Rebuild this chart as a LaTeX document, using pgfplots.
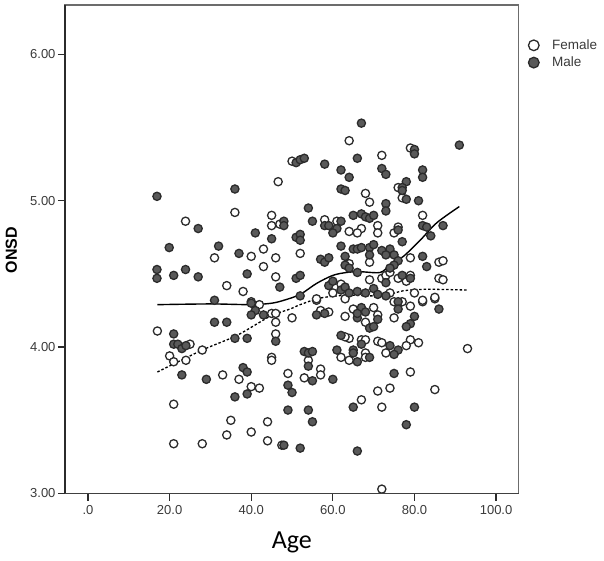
\documentclass[border=0pt]{standalone}
\usepackage{pgfplots}
\pgfplotsset{compat=1.18}
\usepackage{fontspec}
\setmainfont{Liberation Sans}
\newfontfamily\agefont{Carlito}
\definecolor{malefill}{HTML}{595959}
\definecolor{edge}{HTML}{2B2B2B}
\definecolor{ticktext}{HTML}{3A3A3A}
\begin{document}
\begin{tikzpicture}[x=1pt,y=1pt]
\path[use as bounding box] (-65,-66.5) rectangle (539,488.5+5);
\begin{axis}[
  at={(0,0)}, anchor=south west,
  scale only axis, width=453.5pt, height=488.5pt,
  xmin=-5.64, xmax=105.5, ymin=3, ymax=6.337,
  xtick={0,20,40,60,80,100},
  xticklabels={.0,20.0,40.0,60.0,80.0,100.0},
  ytick={3,4,5,6},
  yticklabels={3.00,4.00,5.00,6.00},
  tick align=outside, tick pos=left,
  tick style={draw=edge, line width=1.3pt},
  major tick length=7pt,
  ticklabel style={font=\fontsize{13}{15}\selectfont, text=ticktext},
  xticklabel style={yshift=-1pt},
  yticklabel style={xshift=1pt},
  axis line style={draw=gray!85!black, line width=1.5pt},
  xlabel={\agefont\fontsize{26}{30}\selectfont Age},
  xlabel style={at={(rel axis cs:0.5,0)}, anchor=base, yshift=-55pt},
  ylabel={\bfseries\fontsize{16}{18}\selectfont ONSD},
  ylabel style={at={(rel axis cs:0,0.4985)}, anchor=base, rotate=0, yshift=48pt},
  clip=false,
  legend style={draw=none, fill=none, at={(rel axis cs:1.0215,0.9335)}, anchor=north west,
    font=\fontsize{13.5}{16}\selectfont, row sep=2pt, column sep=11pt, inner sep=0pt},
  legend image post style={scale=1.3},
  legend cell align=left,
  every axis legend/.append style={nodes={text=ticktext}},
  after end axis/.code={
    \draw[edge, line width=1.8pt] (rel axis cs:0,0) -- (rel axis cs:0,1);
    \draw[edge!90, line width=1.3pt] (rel axis cs:0,0) -- (rel axis cs:1,0);
  },
]
\addplot[only marks, mark=*, mark size=4.1pt,
  mark options={draw=edge, fill=white, line width=1.3pt}] table {
x y
46.6 5.13
36 4.92
23.9 4.86
45 4.90
45 4.83
47 4.84
43 4.67
31 4.61
40 4.62
46 4.61
43 4.55
46 4.48
34 4.42
38 4.38
40 4.31
17 4.11
25 4.02
28 3.98
20 3.94
21 3.90
24 3.91
42 4.29
45 4.23
46 4.23
46 4.17
46 4.09
45 3.93
45 3.91
33 3.81
37 3.78
40 3.73
42 3.72
21 3.61
35 3.50
34 3.40
40 3.42
44 3.49
44 3.36
21 3.34
28 3.34
47.5 3.33
56 4.32
57 4.25
59 4.24
50 4.20
63 4.21
65 4.26
70 4.27
68 4.17
71 4.22
75 4.20
75 4.31
77 4.31
79 4.28
82 4.31
85 4.33
64 4.06
63 4.07
67 4.05
68 4.05
71 4.04
72 4.03
79 4.05
81 4.03
78 4.01
73 3.96
93 3.99
62 3.93
64 3.91
68 3.96
68 3.93
54 3.91
57 3.85
57 3.81
53 3.79
49 3.82
79 3.83
74 3.72
71 3.70
85 3.71
67 3.64
72 3.59
72 3.03
64 5.41
79 5.36
72 5.31
50 5.27
68 5.05
69 4.99
76 5.09
77 5.02
82 4.90
58 4.87
61 4.86
71 4.83
71 4.78
67 4.81
66 4.78
64 4.79
75 4.78
76 4.82
52 4.64
69 4.58
64 4.57
79 4.61
86 4.58
87 4.59
86 4.47
87 4.46
69 4.46
72 4.47
73 4.49
74 4.51
76 4.47
78 4.45
79 4.49
80 4.37
60 4.37
62 4.43
56 4.33
74 4.37
82 4.32
85 4.34
63 4.33
};
\addlegendentry{Female}
\addplot[only marks, mark=*, mark size=4.1pt,
  mark options={draw=edge, fill=malefill, line width=1.3pt}] table {
x y
16.9 5.03
36 5.08
27 4.81
41 4.78
45 4.74
19.9 4.68
32 4.69
37 4.64
16.9 4.53
16.9 4.47
21 4.49
23.9 4.53
27 4.48
39 4.50
47 4.41
31 4.32
40 4.30
41 4.25
40 4.22
43 4.22
31 4.17
34 4.17
21 4.09
21 4.02
22 4.02
23 3.99
24 4.01
36 4.06
39 4.06
46 4.04
23 3.81
29 3.78
38 3.86
39 3.83
36 3.66
39 3.68
52 4.35
67 4.27
68 4.24
66 4.20
66 4.23
71 4.19
69 4.13
70 4.14
56 4.22
58 4.23
76 4.31
76 4.26
80 4.21
79 4.16
78 4.14
86 4.26
62 4.08
67 4.02
53 3.97
54 3.96
55 3.97
61 3.98
65 3.98
65 3.96
74 4.01
76 3.98
75 3.95
69 3.93
66 3.90
54 3.87
75 3.82
55 3.77
60 3.78
49 3.74
50 3.69
49 3.57
54 3.57
55 3.49
65 3.59
80 3.59
78 3.47
48 3.33
52 3.31
66 3.29
67 5.53
91 5.38
80 5.35
80 5.32
51 5.26
52 5.28
53 5.29
58 5.25
66 5.29
62 5.21
64 5.16
72 5.22
73 5.18
82 5.21
82 5.16
78 5.13
77 5.09
77 5.07
62 5.08
63 5.07
78 5.01
81 5.00
73 4.98
73 4.93
54 4.95
48 4.86
48 4.83
55 4.86
65 4.90
67 4.91
68 4.89
69 4.88
70 4.90
58 4.83
59 4.83
62 4.86
61 4.81
60 4.78
51 4.75
52 4.77
52 4.73
76 4.80
82 4.83
83 4.82
84 4.76
87 4.83
77 4.72
62 4.69
65 4.67
66 4.67
67 4.68
69 4.68
70 4.70
72 4.66
74 4.67
73 4.63
75 4.63
76 4.59
63 4.62
69 4.63
57 4.60
58 4.58
59 4.61
82 4.62
83 4.55
63 4.56
64 4.54
75 4.56
74 4.54
66 4.51
77 4.49
79 4.47
51 4.47
52 4.49
59 4.42
60 4.45
73 4.44
62 4.39
63 4.41
64 4.37
66 4.38
68 4.37
70 4.40
71 4.36
73 4.35
};
\addlegendentry{Male}
\addplot[forget plot, smooth, black, line width=1.4pt] table {
x y
17 4.29
30 4.295
40 4.29
45 4.30
48 4.32
52 4.36
56 4.435
60 4.49
63.4 4.51
66.7 4.515
71.6 4.51
74 4.56
77.3 4.62
81.4 4.73
85.5 4.85
91 4.96
};
\addplot[forget plot, smooth, black, line width=1.3pt, dash pattern=on 2.5pt off 2pt] table {
x y
17 3.83
28 3.98
36.5 4.08
44.6 4.21
49.5 4.26
52 4.29
56.9 4.335
63.4 4.355
69 4.35
73.2 4.355
77.3 4.385
83 4.395
92.8 4.39
};
\end{axis}
\end{tikzpicture}
\end{document}
